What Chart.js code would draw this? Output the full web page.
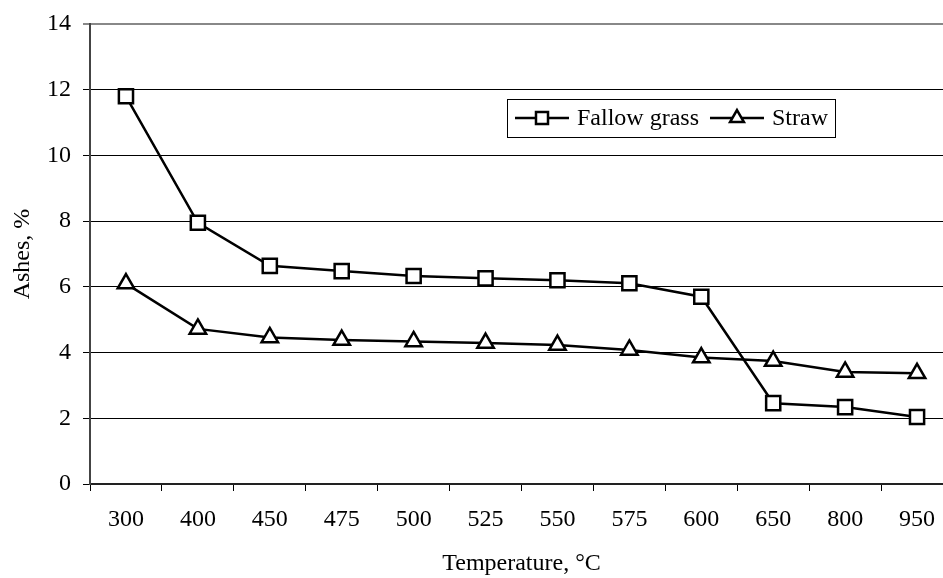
<!DOCTYPE html>
<html>
<head>
<meta charset="utf-8">
<script src="https://cdn.jsdelivr.net/npm/chart.js@4/dist/chart.umd.min.js"></script>
<style>
  html, body { margin: 0; padding: 0; background: #fff; overflow: hidden; }
  body { width: 943px; height: 578px; }
  canvas { display: block; }
</style>
</head>
<body>
<canvas id="myChart" width="953" height="578"></canvas>
<script>
// temperatures on the x axis
const temperatures = ['300', '400', '450', '475', '500', '525', '550', '575', '600', '650', '800', '950'];
// ash content, %
const fallowGrass = [11.8, 7.95, 6.64, 6.48, 6.33, 6.26, 6.2, 6.11, 5.7, 2.46, 2.34, 2.04];
const straw = [6.1, 4.72, 4.46, 4.38, 4.34, 4.29, 4.23, 4.08, 3.85, 3.74, 3.41, 3.37];
const yTicks = [0, 2, 4, 6, 8, 10, 12, 14];

const FONT = '"Liberation Serif", "Times New Roman", serif';

// legend box drawn inside the plot, like the original
const boxLegend = {
  id: 'boxLegend',
  afterDraw(chart) {
    const ctx = chart.ctx;
    const x0 = 507, y0 = 99, w = 328, h = 38;
    const cy = y0 + h / 2;
    ctx.save();
    ctx.fillStyle = '#fff';
    ctx.fillRect(x0, y0, w, h);
    ctx.strokeStyle = '#000';
    ctx.lineWidth = 1;
    ctx.strokeRect(x0 + 0.5, y0 + 0.5, w, h);
    ctx.font = '24px ' + FONT;
    ctx.textBaseline = 'middle';
    let x = x0 + 8;
    chart.data.datasets.forEach(ds => {
      ctx.strokeStyle = '#000';
      ctx.lineWidth = 2.5;
      ctx.beginPath();
      ctx.moveTo(x, cy);
      ctx.lineTo(x + 54, cy);
      ctx.stroke();
      ctx.fillStyle = '#fff';
      Chart.helpers.drawPoint(ctx, {
        pointStyle: ds.pointStyle, radius: ds.pointStyle === 'rect' ? 8.5 : 8,
        rotation: 0, borderWidth: 2.5
      }, x + 27, cy);
      ctx.fillStyle = '#000';
      ctx.fillText(ds.label, x + 62, cy + 1);
      x += 62 + ctx.measureText(ds.label).width + 11;
    });
    ctx.restore();
  }
};

const ctx = document.getElementById('myChart').getContext('2d');
const chart = new Chart(ctx, {
  type: 'line',
  data: {
    labels: temperatures,
    datasets: [{
      label: 'Fallow grass',
      data: fallowGrass,
      borderColor: '#000',
      borderWidth: 2.5,
      pointStyle: 'rect',
      pointRadius: 10,
      pointBorderWidth: 2.5,
      pointBackgroundColor: '#fff',
      pointBorderColor: '#000',
      tension: 0
    }, {
      label: 'Straw',
      data: straw,
      borderColor: '#000',
      borderWidth: 2.5,
      pointStyle: 'triangle',
      pointRadius: 9.5,
      pointBorderWidth: 2.5,
      pointBackgroundColor: '#fff',
      pointBorderColor: '#000',
      tension: 0
    }]
  },
  options: {
    responsive: false,
    animation: false,
    devicePixelRatio: 1,
    layout: { autoPadding: false, padding: { top: 22, right: 0, bottom: 0, left: 0 } },
    plugins: {
      legend: { display: false },
      tooltip: { enabled: false }
    },
    scales: {
      x: {
        type: 'category',
        offset: true,
        grid: {
          offset: true,
          drawOnChartArea: false,
          drawTicks: true,
          tickLength: 7,
          color: '#000',
          lineWidth: 1
        },
        border: { color: '#222', width: 2 },
        ticks: {
          color: '#000',
          font: { family: FONT, size: 24 },
          padding: 14,
          maxRotation: 0,
          autoSkip: false
        },
        title: {
          display: true,
          text: 'Temperature, °C',
          color: '#000',
          font: { family: FONT, size: 24 },
          padding: { top: 0, bottom: 0 }
        },
        afterFit(s) { s.height = 94; }
      },
      y: {
        min: 0,
        max: 14,
        afterBuildTicks(s) { s.ticks = yTicks.map(v => ({ value: v })); },
        grid: {
          color: c => (c.tick && c.tick.value === 14) ? '#888' : '#000',
          lineWidth: c => (c.tick && c.tick.value === 14) ? 2 : 1,
          drawTicks: true,
          tickLength: 7
        },
        border: { color: '#444', width: 2 },
        ticks: {
          color: '#000',
          font: { family: FONT, size: 24, lineHeight: 1 },
          padding: 12
        },
        title: {
          display: true,
          text: 'Ashes, %',
          color: '#000',
          font: { family: FONT, size: 24 },
          padding: { top: 8, bottom: 0 }
        },
        afterFit(s) { s.width = 90; }
      }
    }
  },
  plugins: [boxLegend]
});
</script>
</body>
</html>
